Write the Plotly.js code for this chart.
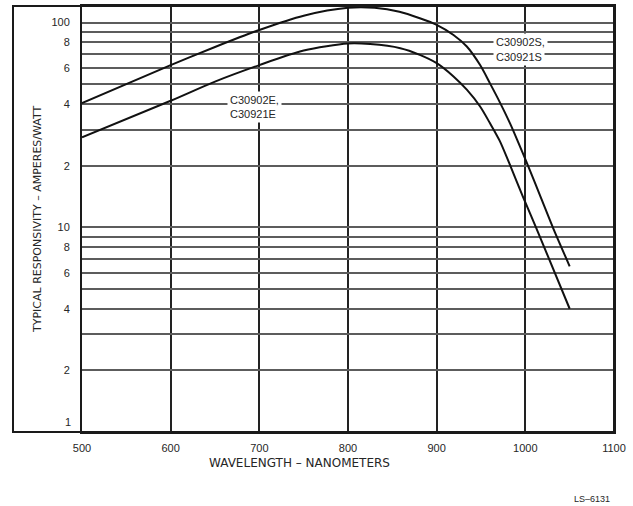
<!DOCTYPE html>
<html>
<head>
<meta charset="utf-8">
<script src="https://cdn.plot.ly/plotly-3.0.1.min.js"></script>
<style>html,body{margin:0;padding:0;background:#fff;}#chart{width:633px;height:506px;}</style>
</head>
<body>
<div id="chart"></div>
<script>
// Upper curve: C30902S / C30921S
const wavelengthS = [500, 600, 650, 700, 750, 800, 830, 858, 881, 900, 919, 934, 949, 960, 971, 983, 992, 1003, 1018, 1031, 1050];
const respS       = [40.4, 62, 76, 92, 108, 118, 118, 113, 105, 97.5, 87, 76.4, 62, 50.6, 41, 32, 26, 20, 13.8, 10, 6.45];
// Lower curve: C30902E / C30921E
const wavelengthE = [500, 600, 650, 700, 750, 800, 825, 859, 881, 900, 919, 934, 949, 960, 971, 982, 997, 1012, 1050];
const respE       = [27.5, 41.5, 51.5, 62, 73, 79, 78.5, 75, 69.6, 63.4, 54.6, 47, 38.9, 32.3, 26.5, 20.5, 14.2, 10, 4.0];

const xTicks = [500, 600, 700, 800, 900, 1000, 1100];
const xTickText = ['500', '600', '700', '800', '900', '1000', '1100'];
const yTicks = [1, 2, 3, 4, 5, 6, 7, 8, 9, 10, 20, 30, 40, 50, 60, 70, 80, 90, 100];
const yTickText = ['', '2', '', '4', '', '6', '', '8', '', '10', '2', '', '4', '', '6', '', '8', '', '100'];

const labelS = ['C30902S,', 'C30921S'];
const labelE = ['C30902E,', 'C30921E'];

const txt = '#262626';
const lineStyle = {color: '#111', width: 2, shape: 'spline', smoothing: 0.8};

const traces = [
  {x: wavelengthS, y: respS, type: 'scatter', mode: 'lines', line: lineStyle, hoverinfo: 'skip'},
  {x: wavelengthE, y: respE, type: 'scatter', mode: 'lines', line: lineStyle, hoverinfo: 'skip'}
];

const px0 = 82, pw = 532;
const ann = (text, x, y, opts) => Object.assign({
  text: text, x: x, y: y, xref: 'x', yref: 'y', showarrow: false,
  xanchor: 'left', yanchor: 'middle', bgcolor: '#fff', borderpad: 2,
  font: {family: 'Liberation Sans, Arial, sans-serif', size: 11, color: txt}
}, opts || {});

const layout = {
  width: 633, height: 506,
  margin: {l: 82, r: 19, t: 6, b: 74},
  paper_bgcolor: '#fff', plot_bgcolor: '#fff',
  showlegend: false,
  font: {family: 'Liberation Sans, Arial, sans-serif', color: txt},
  xaxis: {
    range: [500, 1100], tickvals: xTicks, ticktext: xTickText,
    showgrid: true, gridcolor: '#222', gridwidth: 2,
    showline: true, linecolor: '#1a1a1a', linewidth: 2, mirror: true,
    ticks: 'outside', ticklen: 5, tickcolor: 'rgba(0,0,0,0)',
    tickfont: {size: 11, color: txt}, zeroline: false
  },
  yaxis: {
    type: 'log', range: [0, 2.081], tickvals: yTicks, ticktext: yTickText,
    showgrid: true, gridcolor: '#5c5c5c', gridwidth: 2,
    showline: true, linecolor: '#1a1a1a', linewidth: 2, mirror: true,
    ticks: 'outside', ticklen: 8, tickcolor: 'rgba(0,0,0,0)',
    tickfont: {size: 11, color: txt}, zeroline: false
  },
  shapes: [
    {type: 'rect', xref: 'paper', yref: 'paper', x0: (13 - px0) / pw, x1: 1, y0: 0, y1: 1,
     line: {color: '#1a1a1a', width: 2}, fillcolor: 'rgba(0,0,0,0)'}
  ],
  annotations: [
    ann(labelS[0], 963, Math.log10(80)),
    ann(labelS[1], 963, Math.log10(67.8)),
    ann(labelE[0], 664, Math.log10(42)),
    ann(labelE[1], 664, Math.log10(35.8)),
    {text: '1', xref: 'paper', yref: 'y', x: (73 - px0) / pw, y: 0, yshift: 10, xanchor: 'right', yanchor: 'middle',
     showarrow: false, font: {size: 11, color: txt}},
    {text: 'TYPICAL RESPONSIVITY – AMPERES/WATT', xref: 'paper', yref: 'paper',
     x: (37 - px0) / pw, y: 0.5, xanchor: 'center', yanchor: 'middle', textangle: -90, showarrow: false,
     font: {family: 'DejaVu Sans, sans-serif', size: 11, color: txt}},
    {text: 'WAVELENGTH – NANOMETERS', xref: 'paper', yref: 'paper',
     x: (207 - px0) / pw, y: 0, yshift: -31, xanchor: 'left', yanchor: 'middle', showarrow: false,
     font: {family: 'DejaVu Sans, sans-serif', size: 12, color: txt}},
    {text: 'LS–6131', xref: 'paper', yref: 'paper',
     x: (612 - px0) / pw, y: 0, yshift: -67, xanchor: 'right', yanchor: 'middle', showarrow: false,
     font: {size: 9, color: txt}}
  ]
};

Plotly.newPlot('chart', traces, layout, {displayModeBar: false, staticPlot: true});
</script>
</body>
</html>
